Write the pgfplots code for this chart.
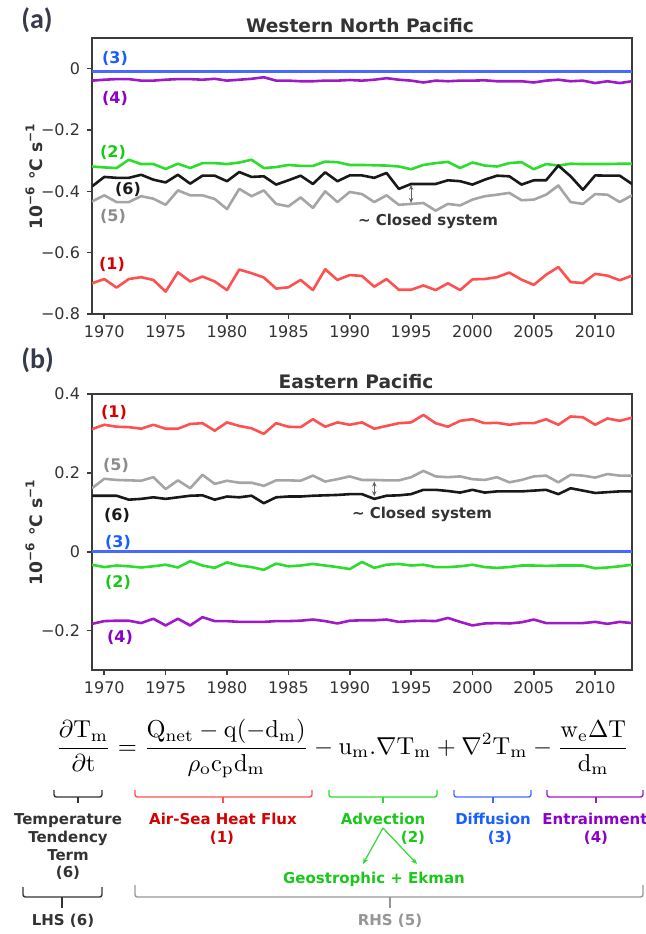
\documentclass[border=0pt]{standalone}
\usepackage[no-math]{fontspec}
\setmainfont{DejaVu Sans}
\newfontfamily\letterfont{Carlito}
\usepackage{graphicx}
\usepackage{pgfplots}
\usepackage{pgfplotstable}
\pgfplotsset{compat=1.18}
\usetikzlibrary{arrows.meta}

\definecolor{txt}{RGB}{51,51,51}
\definecolor{frame}{RGB}{60,60,60}
\definecolor{panel}{RGB}{55,58,75}
\definecolor{redline}{RGB}{255,80,80}
\definecolor{redtxt}{RGB}{215,0,0}
\definecolor{greenline}{RGB}{45,220,45}
\definecolor{greentxt}{RGB}{25,200,25}
\definecolor{blueline}{RGB}{70,105,255}
\definecolor{bluetxt}{RGB}{25,95,255}
\definecolor{purpleline}{RGB}{160,25,200}
\definecolor{purpletxt}{RGB}{140,0,200}
\definecolor{greyline}{RGB}{165,165,165}
\definecolor{greytxt}{RGB}{140,140,140}
\definecolor{blackline}{RGB}{25,25,25}
\definecolor{rhs}{RGB}{150,150,150}

% Western North Pacific budget terms (10^-6 degC/s)
% s1 air-sea flux, s2 advection, s4 entrainment, s5 RHS, s6 LHS
\pgfplotstableread{
year s1 s2 s4 s5 s6
1969 -0.700 -0.319 -0.039 -0.433 -0.384
1970 -0.686 -0.322 -0.036 -0.413 -0.353
1971 -0.714 -0.324 -0.034 -0.435 -0.356
1972 -0.686 -0.297 -0.034 -0.435 -0.356
1973 -0.680 -0.311 -0.039 -0.416 -0.346
1974 -0.689 -0.311 -0.039 -0.424 -0.362
1975 -0.727 -0.327 -0.036 -0.444 -0.371
1976 -0.664 -0.310 -0.034 -0.397 -0.346
1977 -0.694 -0.324 -0.034 -0.413 -0.375
1978 -0.678 -0.308 -0.036 -0.413 -0.349
1979 -0.694 -0.308 -0.033 -0.425 -0.349
1980 -0.722 -0.311 -0.039 -0.458 -0.367
1981 -0.655 -0.306 -0.036 -0.392 -0.337
1982 -0.667 -0.297 -0.033 -0.416 -0.353
1983 -0.681 -0.324 -0.028 -0.397 -0.351
1984 -0.717 -0.321 -0.039 -0.441 -0.378
1985 -0.713 -0.314 -0.039 -0.449 -0.364
1986 -0.689 -0.317 -0.041 -0.420 -0.349
1987 -0.722 -0.317 -0.041 -0.454 -0.376
1988 -0.654 -0.303 -0.039 -0.400 -0.338
1989 -0.689 -0.305 -0.039 -0.435 -0.367
1990 -0.673 -0.314 -0.037 -0.402 -0.348
1991 -0.676 -0.314 -0.039 -0.409 -0.348
1992 -0.711 -0.315 -0.036 -0.435 -0.356
1993 -0.686 -0.316 -0.031 -0.413 -0.340
1994 -0.721 -0.319 -0.036 -0.444 -0.392
1995 -0.721 -0.328 -0.039 -0.441 -0.376
1996 -0.707 -0.314 -0.045 -0.438 -0.376
1997 -0.722 -0.308 -0.039 -0.463 -0.376
1998 -0.700 -0.304 -0.041 -0.441 -0.364
1999 -0.722 -0.324 -0.039 -0.446 -0.367
2000 -0.687 -0.306 -0.039 -0.427 -0.378
2001 -0.686 -0.316 -0.038 -0.416 -0.362
2002 -0.680 -0.319 -0.041 -0.411 -0.349
2003 -0.665 -0.308 -0.041 -0.405 -0.351
2004 -0.688 -0.305 -0.041 -0.429 -0.378
2005 -0.705 -0.328 -0.045 -0.427 -0.364
2006 -0.672 -0.311 -0.039 -0.411 -0.364
2007 -0.647 -0.316 -0.036 -0.381 -0.316
2008 -0.696 -0.310 -0.041 -0.435 -0.351
2009 -0.699 -0.311 -0.039 -0.441 -0.395
2010 -0.669 -0.311 -0.047 -0.409 -0.348
2011 -0.675 -0.311 -0.041 -0.411 -0.349
2012 -0.690 -0.310 -0.047 -0.435 -0.349
2013 -0.675 -0.310 -0.041 -0.413 -0.376
}\wnp

% Eastern Pacific budget terms
\pgfplotstableread{
year s1 s2 s4 s5 s6
1969 0.311 -0.033 -0.183 0.161 0.142
1970 0.322 -0.039 -0.176 0.185 0.142
1971 0.317 -0.035 -0.175 0.182 0.142
1972 0.316 -0.037 -0.175 0.181 0.132
1973 0.312 -0.040 -0.181 0.180 0.134
1974 0.322 -0.037 -0.170 0.189 0.138
1975 0.312 -0.033 -0.187 0.159 0.134
1976 0.312 -0.040 -0.170 0.181 0.138
1977 0.324 -0.024 -0.187 0.161 0.142
1978 0.326 -0.035 -0.166 0.195 0.143
1979 0.307 -0.041 -0.176 0.172 0.132
1980 0.328 -0.027 -0.176 0.180 0.140
1981 0.319 -0.035 -0.178 0.175 0.138
1982 0.313 -0.039 -0.178 0.175 0.142
1983 0.299 -0.046 -0.178 0.167 0.123
1984 0.326 -0.030 -0.176 0.181 0.138
1985 0.317 -0.037 -0.176 0.181 0.140
1986 0.316 -0.035 -0.175 0.180 0.140
1987 0.336 -0.031 -0.172 0.193 0.142
1988 0.317 -0.035 -0.176 0.178 0.143
1989 0.328 -0.039 -0.182 0.184 0.144
1990 0.322 -0.044 -0.175 0.191 0.146
1991 0.328 -0.026 -0.174 0.182 0.146
1992 0.312 -0.041 -0.174 0.182 0.134
1993 0.319 -0.033 -0.172 0.181 0.142
1994 0.326 -0.031 -0.178 0.181 0.143
1995 0.328 -0.035 -0.176 0.189 0.146
1996 0.347 -0.033 -0.175 0.205 0.157
1997 0.326 -0.039 -0.176 0.191 0.157
1998 0.317 -0.039 -0.168 0.189 0.154
1999 0.332 -0.037 -0.178 0.191 0.150
2000 0.336 -0.033 -0.187 0.184 0.157
2001 0.326 -0.039 -0.182 0.182 0.150
2002 0.327 -0.041 -0.181 0.189 0.153
2003 0.322 -0.039 -0.182 0.176 0.153
2004 0.326 -0.035 -0.179 0.182 0.153
2005 0.326 -0.035 -0.172 0.191 0.155
2006 0.336 -0.036 -0.181 0.193 0.157
2007 0.322 -0.035 -0.181 0.176 0.146
2008 0.343 -0.035 -0.181 0.195 0.161
2009 0.341 -0.035 -0.181 0.193 0.155
2010 0.322 -0.042 -0.178 0.188 0.149
2011 0.338 -0.040 -0.183 0.197 0.151
2012 0.332 -0.037 -0.178 0.193 0.153
2013 0.340 -0.033 -0.181 0.193 0.153
}\ep

\pgfplotsset{
  budget/.style={
    scale only axis, width=270pt, height=138pt,
    xmin=1969, xmax=2013,
    xtick={1970,1975,...,2010},
    xticklabels={1970,1975,1980,1985,1990,1995,2000,2005,2010},
    xtick pos=bottom, ytick pos=left, tick align=outside,
    major tick length=2.5pt,
    axis line style={draw=frame, line width=0.8pt},
    tick style={draw=frame, line width=0.8pt},
    tick label style={font=\fontsize{8}{9}\selectfont, text=txt},
  },
  term/.style={line width=1.3pt, mark=none, line join=round},
}

\newcommand{\lab}{\fontsize{8}{9}\selectfont\bfseries}
\newcommand{\termfont}{\fontsize{7.5}{9}\selectfont\bfseries}

\begin{document}
\begin{tikzpicture}
\useasboundingbox (0,0) rectangle (323pt,-467pt);

% ---------- (a) Western North Pacific ----------
\begin{axis}[budget, at={(46pt,-19pt)}, anchor=north west,
  ymin=-0.8, ymax=0.1,
  ytick={-0.8,-0.6,-0.4,-0.2,0},
  yticklabels={−0.8,−0.6,−0.4,−0.2,0}]
  \addplot[term, redline] table[x=year, y=s1] {\wnp};
  \addplot[term, greenline] table[x=year, y=s2] {\wnp};
  \addplot[term, blueline, line width=1.5pt] coordinates {(1969,-0.010) (2013,-0.010)};
  \addplot[term, purpleline] table[x=year, y=s4] {\wnp};
  \addplot[term, greyline] table[x=year, y=s5] {\wnp};
  \addplot[term, blackline] table[x=year, y=s6] {\wnp};
  \draw[frame!80, line width=0.5pt, {Stealth[length=2.5pt,width=2.2pt]}-{Stealth[length=2.5pt,width=2.2pt]}]
    (axis cs:1995,-0.379) -- (axis cs:1995,-0.438);
\end{axis}

% ---------- (b) Eastern Pacific ----------
\begin{axis}[budget, at={(46pt,-197pt)}, anchor=north west,
  ymin=-0.3, ymax=0.4,
  ytick={-0.2,0,0.2,0.4},
  yticklabels={−0.2,0,0.2,0.4}]
  \addplot[term, redline] table[x=year, y=s1] {\ep};
  \addplot[term, greenline] table[x=year, y=s2] {\ep};
  \addplot[term, blueline, line width=1.5pt] coordinates {(1969,0) (2013,0)};
  \addplot[term, purpleline] table[x=year, y=s4] {\ep};
  \addplot[term, greyline] table[x=year, y=s5] {\ep};
  \addplot[term, blackline] table[x=year, y=s6] {\ep};
  \draw[frame!80, line width=0.5pt, {Stealth[length=2.5pt,width=2.2pt]}-{Stealth[length=2.5pt,width=2.2pt]}]
    (axis cs:1992,0.141) -- (axis cs:1992,0.178);
\end{axis}

\begin{scope}[x=0.5pt, y=-0.5pt]
  % panel letters and titles
  \node[anchor=base west, inner sep=0, text=panel, font=\letterfont\fontsize{14}{16}\selectfont\bfseries] at (21,28) {(a)};
  \node[anchor=base west, inner sep=0, text=panel, font=\letterfont\fontsize{14}{16}\selectfont\bfseries] at (21,368) {(b)};
  \node[anchor=base, inner sep=0, text=txt, font=\fontsize{9.3}{11}\selectfont\bfseries] at (360,32) {Western North Pacific};
  \node[anchor=base, inner sep=0, text=txt, font=\fontsize{9.3}{11}\selectfont\bfseries] at (356,388) {Eastern Pacific};
  % y labels
  \node[rotate=90, anchor=base, inner sep=0, text=txt, font=\fontsize{8.6}{10}\selectfont\bfseries] at (42,176) {10\textsuperscript{−6} °C s\textsuperscript{−1}};
  \node[rotate=90, anchor=base, inner sep=0, text=txt, font=\fontsize{8.6}{10}\selectfont\bfseries] at (42,532) {10\textsuperscript{−6} °C s\textsuperscript{−1}};

  % term labels, panel (a)
  \node[text=bluetxt, font=\lab, inner sep=0] at (115,58) {(3)};
  \node[text=purpletxt, font=\lab, inner sep=0] at (115,98) {(4)};
  \node[text=greentxt, font=\lab, inner sep=0] at (113,152) {(2)};
  \node[text=blackline, font=\lab, inner sep=0] at (128,189) {(6)};
  \node[text=greytxt, font=\lab, inner sep=0] at (113,216) {(5)};
  \node[text=redtxt, font=\lab, inner sep=0] at (112,264) {(1)};
  \node[text=txt, font=\termfont, inner sep=0] at (428,221) {\textasciitilde\ Closed system};

  % term labels, panel (b)
  \node[text=redtxt, font=\lab, inner sep=0] at (114,412) {(1)};
  \node[text=greytxt, font=\lab, inner sep=0] at (116,465) {(5)};
  \node[text=blackline, font=\lab, inner sep=0] at (117,515) {(6)};
  \node[text=bluetxt, font=\lab, inner sep=0] at (118,542) {(3)};
  \node[text=greentxt, font=\lab, inner sep=0] at (118,582) {(2)};
  \node[text=purpletxt, font=\lab, inner sep=0] at (120,637) {(4)};
  \node[text=txt, font=\termfont, inner sep=0] at (422,514) {\textasciitilde\ Closed system};

  % mixed-layer heat budget equation
  \node[anchor=north, inner sep=0] at (342.5,719) {\resizebox{286.5pt}{!}{$\displaystyle
    \frac{\partial \mathrm{T_m}}{\partial \mathrm{t}} =
    \frac{\mathrm{Q_{net}} - \mathrm{q}(-\mathrm{d_m})}{\rho_\mathrm{o}\mathrm{c_p d_m}}
    - \mathrm{u_m}.\nabla \mathrm{T_m} + \nabla^2 \mathrm{T_m}
    - \frac{\mathrm{w_e}\Delta\mathrm{T}}{\mathrm{d_m}}$}};

  % brackets under each term
  \begin{scope}[line width=0.7pt, rounded corners=1.2pt]
    \draw[txt] (54,790) -- (54,797) -- (102,797) -- (102,790);
    \draw[txt] (78,797) -- (78,803);
    \draw[redline] (135,790) -- (135,797) -- (312,797) -- (312,790);
    \draw[redline] (223,797) -- (223,803);
    \draw[greenline] (329,790) -- (329,797) -- (437,797) -- (437,790);
    \draw[greenline] (383,797) -- (383,803);
    \draw[blueline] (454,790) -- (454,797) -- (531,797) -- (531,790);
    \draw[blueline] (493,797) -- (493,803);
    \draw[purpleline] (547,790) -- (547,797) -- (643,797) -- (643,790);
    \draw[purpleline] (596,797) -- (596,803);
    \draw[txt] (23,887) -- (23,897) -- (102,897) -- (102,887);
    \draw[txt] (62,897) -- (62,908);
    \draw[rhs] (135,885) -- (135,897) -- (643,897) -- (643,885);
    \draw[rhs] (390,897) -- (390,908);
  \end{scope}

  % term names
  \begin{scope}[every node/.style={anchor=base, inner sep=0, font=\termfont}]
    \node[text=txt] at (68,824) {Temperature};
    \node[text=txt] at (68,842) {Tendency};
    \node[text=txt] at (68,860) {Term};
    \node[text=txt] at (68,877) {(6)};
    \node[text=redtxt] at (223,824) {Air-Sea Heat Flux};
    \node[text=redtxt] at (222,842) {(1)};
    \node[text=greentxt] at (383,824) {Advection};
    \node[text=greentxt] at (413,842) {(2)};
    \node[text=bluetxt] at (493,824) {Diffusion};
    \node[text=bluetxt] at (500,842) {(3)};
    \node[text=purpletxt] at (595,824) {Entrainment};
    \node[text=purpletxt] at (596,842) {(4)};
    \node[text=greentxt] at (374,883) {Geostrophic + Ekman};
    \node[text=txt] at (63,925) {LHS (6)};
    \node[text=rhs] at (390,925) {RHS (5)};
  \end{scope}
  \draw[greenline, line width=0.6pt, -{Stealth[length=3pt,width=2.5pt]}] (383,828) -- (363,864);
  \draw[greenline, line width=0.6pt, -{Stealth[length=3pt,width=2.5pt]}] (383,828) -- (417,864);
\end{scope}
\end{tikzpicture}
\end{document}
